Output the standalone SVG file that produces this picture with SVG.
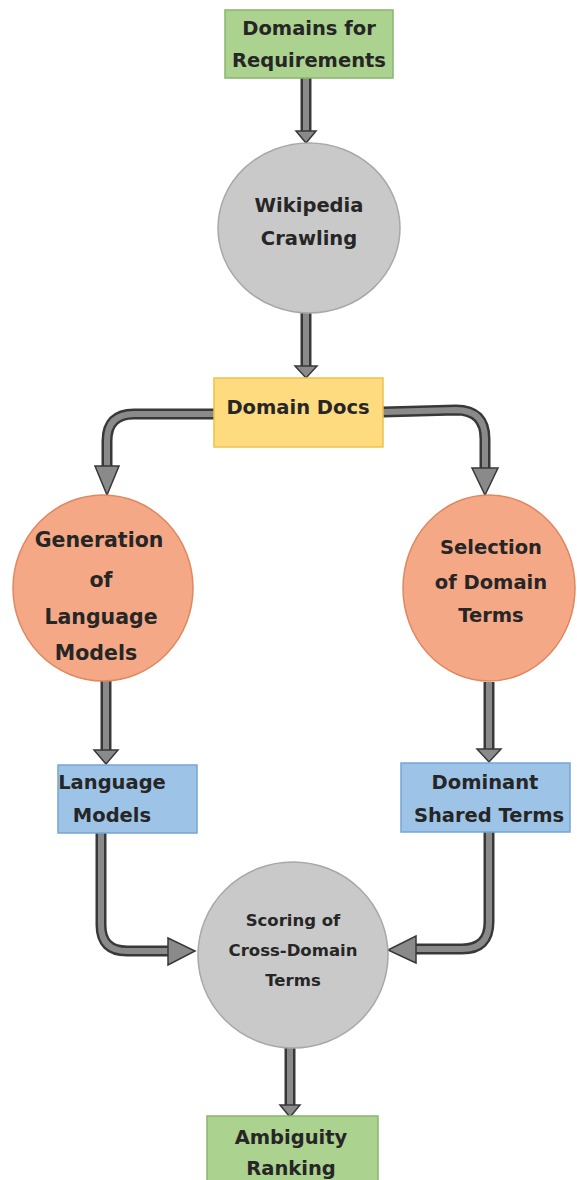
<svg xmlns="http://www.w3.org/2000/svg" width="577" height="1180" viewBox="0 0 577 1180">
<defs>
<style>
.t{font-family:"DejaVu Sans","Liberation Sans",sans-serif;font-weight:bold;font-size:19.5px;fill:#262626;text-anchor:middle}
.big{font-size:20.5px}
.sm{font-size:16.5px}
.green{fill:#acd28f;stroke:#8ab56c;stroke-width:1.5}
.gray{fill:#c9c9c9;stroke:#a8a8a8;stroke-width:1.5}
.yellow{fill:#ffdb80;stroke:#f0c14b;stroke-width:1.5}
.orange{fill:#f5a886;stroke:#e0875f;stroke-width:1.5}
.blue{fill:#9dc3e6;stroke:#76a5d4;stroke-width:1.5}
.out{fill:none;stroke:#383838;stroke-width:11}
.in{fill:none;stroke:#8a8a8a;stroke-width:6}
.head{fill:#8a8a8a;stroke:#383838;stroke-width:1.5;stroke-linejoin:miter}
</style>
</defs>
<rect width="577" height="1180" fill="#ffffff"/>

<g id="connectors">
<g id="c1"><path class="out" d="M306,78 V132"/><path class="in" d="M306,78 V133"/><polygon class="head" points="296,131 316,131 306,143"/></g>
<g id="c2"><path class="out" d="M306,312 V367"/><path class="in" d="M306,312 V368"/><polygon class="head" points="295,366 317,366 306,378"/></g>
<g id="c3"><path class="out" d="M214,414 H134 Q107,414 107,441 V467"/><path class="in" d="M214,414 H134 Q107,414 107,441 V468"/><polygon class="head" points="95,466 119,466 107,495"/></g>
<g id="c4"><path class="out" d="M383,412 L456,410 Q485,410 485,439 V469"/><path class="in" d="M383,412 L456,410 Q485,410 485,439 V470"/><polygon class="head" points="472,468 498,468 485,495"/></g>
<g id="c5"><path class="out" d="M106,680 V751"/><path class="in" d="M106,680 V752"/><polygon class="head" points="94,750 118,750 106,764"/></g>
<g id="c6"><path class="out" d="M489,682 V750"/><path class="in" d="M489,682 V751"/><polygon class="head" points="477,749 501,749 489,762"/></g>
<g id="c7"><path class="out" d="M101,833 V925 Q101,951 127,951 H169"/><path class="in" d="M101,833 V925 Q101,951 127,951 H170"/><polygon class="head" points="168,938 168,965 195,951"/></g>
<g id="c8"><path class="out" d="M489,832 V922 Q489,949 462,949 H416"/><path class="in" d="M489,832 V922 Q489,949 462,949 H415"/><polygon class="head" points="416,936 416,963 388,950"/></g>
<g id="c9"><path class="out" d="M290,1048 V1106"/><path class="in" d="M290,1048 V1107"/><polygon class="head" points="280,1105 300,1105 290,1117"/></g>
</g>

<g id="n-domains">
<rect class="green" x="225" y="10" width="168" height="68"/>
<text class="t" x="309" y="35">Domains for</text>
<text class="t" x="309" y="67">Requirements</text>
</g>

<g id="n-wikipedia">
<ellipse class="gray" cx="309" cy="228" rx="91" ry="85"/>
<text class="t" x="309" y="212">Wikipedia</text>
<text class="t" x="309" y="245">Crawling</text>
</g>

<g id="n-docs">
<rect class="yellow" x="214" y="378" width="169" height="69"/>
<text class="t" x="298" y="414">Domain Docs</text>
</g>

<g id="n-generation">
<ellipse class="orange" cx="103" cy="588" rx="90" ry="93"/>
<text class="t big" x="99" y="547">Generation</text>
<text class="t big" x="101" y="587">of</text>
<text class="t big" x="101" y="624">Language</text>
<text class="t big" x="96" y="660">Models</text>
</g>

<g id="n-selection">
<ellipse class="orange" cx="489" cy="588" rx="86" ry="93"/>
<text class="t" x="491" y="554">Selection</text>
<text class="t" x="491" y="589">of Domain</text>
<text class="t" x="491" y="622">Terms</text>
</g>

<g id="n-langmodels">
<rect class="blue" x="58" y="765" width="139" height="68"/>
<text class="t" x="112" y="789">Language</text>
<text class="t" x="112" y="822">Models</text>
</g>

<g id="n-dominant">
<rect class="blue" x="401" y="763" width="169" height="69"/>
<text class="t" x="485" y="789">Dominant</text>
<text class="t" x="489" y="822">Shared Terms</text>
</g>

<g id="n-scoring">
<ellipse class="gray" cx="293" cy="955" rx="95" ry="93"/>
<text class="t sm" x="293" y="926">Scoring of</text>
<text class="t sm" x="293" y="956">Cross-Domain</text>
<text class="t sm" x="293" y="986">Terms</text>
</g>

<g id="n-ambiguity">
<rect class="green" x="207" y="1116" width="171" height="72"/>
<text class="t" x="291" y="1144">Ambiguity</text>
<text class="t" x="291" y="1175">Ranking</text>
</g>
</svg>
